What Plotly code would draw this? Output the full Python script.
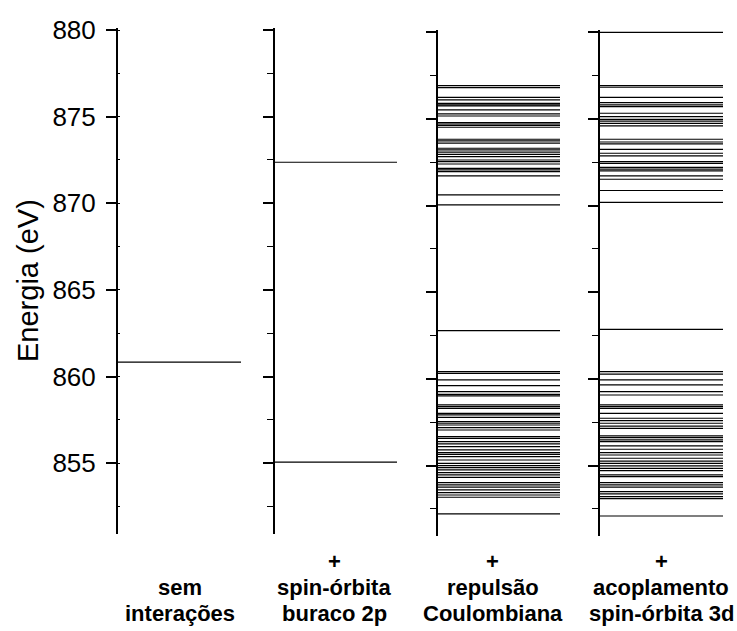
import plotly.graph_objects as go

# Energy levels (eV) for each stage of the calculation
levels_sem = [860.83]
levels_so2p = [872.37, 855.07]
levels_coul = [
    876.92, 876.81, 876.25, 876.10, 875.90, 875.81, 875.75, 875.52, 875.29, 875.17,
    874.79, 874.71, 874.63, 874.52, 873.83, 873.73, 873.60, 873.31, 873.21, 873.08,
    872.96, 872.83, 872.63, 872.54, 872.40, 872.15, 872.06, 871.96, 871.71, 870.62,
    870.04,
    862.78,
    860.42, 860.32, 859.94, 859.61, 859.26, 859.11, 859.02, 858.50, 858.40, 858.30,
    858.01, 857.92, 857.78, 857.53, 857.44, 857.34, 857.19, 857.05, 856.67, 856.57,
    856.38, 856.25, 856.09, 855.90, 855.75, 855.65, 855.52, 855.32, 855.13, 855.00,
    854.88, 854.75, 854.59, 854.46, 854.32, 854.02, 853.88, 853.75, 853.60, 853.44,
    853.30, 853.17, 852.21,
]
levels_so3d = [
    880.00,
    876.92, 876.83, 876.25, 875.94, 875.81, 875.71, 875.33, 875.13, 874.98, 874.88,
    874.75, 874.60, 873.83, 873.67, 873.56, 873.25, 873.02, 872.87, 872.54, 872.44,
    872.21, 872.10, 872.00, 871.71, 871.52, 870.87, 870.19,
    862.86,
    860.42, 860.28, 859.94, 859.65, 859.26, 859.07, 858.50, 858.40, 858.30, 858.01,
    857.73, 857.59, 857.44, 857.28, 857.15, 856.71, 856.61, 856.48, 856.38, 856.13,
    855.94, 855.75, 855.61, 855.42, 855.26, 855.13, 854.98, 854.84, 854.71, 854.46,
    854.36, 854.02, 853.88, 853.75, 853.50, 853.36, 853.21, 853.09, 852.09,
]

panel_levels = [levels_sem, levels_so2p, levels_coul, levels_so3d]
panel_labels = [
    ["sem", "interações"],
    ["spin-órbita", "buraco 2p"],
    ["repulsão", "Coulombiana"],
    ["acoplamento", "spin-órbita 3d"],
]
y_ticks = [855, 860, 865, 870, 875, 880]
y_title = "Energia (eV)"

W, H = 737, 631
PT, PB = 28, 537          # pixel extent of the paper area
# horizontal extent (px) of each panel: axis position -> end of level lines
panel_x = [(118, 241), (275, 397), (438, 560), (600, 723)]
# vertical extent (px) of each panel's axis line
panel_y = [(28, 534), (28, 534), (30.3, 536.3), (30.3, 536.3)]
PX_PER_EV = 17.33
E_TOP_AT = 2.0            # px between axis top and the 880 tick

def xdom(a, b):
    return [a / W, b / W]

def ydom(top, bot):
    h = PB - PT
    return [(PB - bot) / h, (PB - top) / h]

def py(pix):
    return (PB - pix) / (PB - PT)

def px(pix):
    return pix / W

fig = go.Figure()
layout = {}
for i, lv in enumerate(panel_levels):
    n = i + 1
    xs, ys = [], []
    for e in lv:
        xs += [0, 1, None]
        ys += [e, e, None]
    fig.add_trace(go.Scatter(
        x=xs, y=ys, mode="lines",
        line=dict(color="black", width=1.2),
        xaxis=f"x{n}" if n > 1 else "x",
        yaxis=f"y{n}" if n > 1 else "y",
        showlegend=False, hoverinfo="skip",
    ))
    top, bot = panel_y[i]
    e_top = max(y_ticks) + E_TOP_AT / PX_PER_EV
    e_bot = e_top - (bot - top) / PX_PER_EV
    xa = dict(domain=xdom(*panel_x[i]), range=[0, 1], visible=False,
              anchor=f"y{n}" if n > 1 else "y")
    ya = dict(
        domain=ydom(top, bot), range=[e_bot, e_top],
        anchor=f"x{n}" if n > 1 else "x",
        showline=True, linecolor="black", linewidth=2,
        showgrid=False, zeroline=False,
        ticks="outside", ticklen=10, tickwidth=1.6, tickcolor="black",
        tickmode="array", tickvals=y_ticks,
        showticklabels=(i == 0),
        tickfont=dict(family="Liberation Sans, Arial, sans-serif", size=26, color="black"),
        ticklabelstandoff=5,
        minor=dict(dtick=2.5, ticks="inside" if i == 0 else "outside",
                   ticklen=2 if i == 0 else 6, tickwidth=1.4, tickcolor="black"),
    )
    layout["xaxis" if n == 1 else f"xaxis{n}"] = xa
    layout["yaxis" if n == 1 else f"yaxis{n}"] = ya

fig.update_layout(**layout)

label_font = dict(family="Liberation Sans, Arial, sans-serif", size=22, color="black")
centers = [180, 334, 493, 661]
annotations = []
for i, (l1, l2) in enumerate(panel_labels):
    cx = centers[i]
    if i > 0:
        annotations.append(dict(text="<b>+</b>", x=px(cx), y=py(561), xref="paper", yref="paper",
                                showarrow=False, xanchor="center", yanchor="middle", font=label_font))
    annotations.append(dict(text=f"<b>{l1}</b>", x=px(cx), y=py(588), xref="paper", yref="paper",
                            showarrow=False, xanchor="center", yanchor="middle", font=label_font))
    annotations.append(dict(text=f"<b>{l2}</b>", x=px(cx), y=py(613), xref="paper", yref="paper",
                            showarrow=False, xanchor="center", yanchor="middle", font=label_font))

annotations.append(dict(text=y_title, x=px(28), y=py(281), xref="paper", yref="paper",
                        showarrow=False, textangle=-90, xanchor="center", yanchor="middle",
                        font=dict(family="Liberation Sans, Arial, sans-serif", size=29, color="black")))

fig.update_layout(
    width=W, height=H,
    margin=dict(l=0, r=0, t=PT, b=H - PB, pad=0),
    paper_bgcolor="white", plot_bgcolor="white",
    annotations=annotations,
)

fig.write_html("out.html")
